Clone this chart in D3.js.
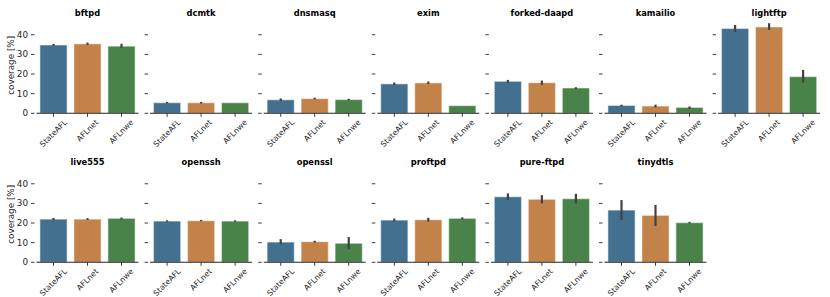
<!DOCTYPE html>
<html>
<head>
<meta charset="utf-8">
<script src="https://cdn.jsdelivr.net/npm/d3@7"></script>
<style>
  html, body { margin: 0; padding: 0; background: #fff; }
  svg { display: block; font-family: "DejaVu Sans", sans-serif; }
</style>
</head>
<body>
<svg id="chart" width="830" height="297"></svg>
<script>
// ---- data ----
const programs = ["bftpd","dcmtk","dnsmasq","exim","forked-daapd","kamailio","lightftp",
                  "live555","openssh","openssl","proftpd","pure-ftpd","tinydtls"];
const fuzzers = ["StateAFL","AFLnet","AFLnwe"];
const yTicks = [0,10,20,30,40];

const stateafl    = [34.8, 5.4, 6.9, 15.0, 16.3, 4.0, 43.2, 22.0, 21.0, 10.3, 21.5, 33.4, 26.6];
const stateaflLo  = [34.3, 5.0, 6.3, 14.4, 15.6, 3.6, 41.5, 21.4, 20.6,  9.3, 20.8, 31.7, 21.5];
const stateaflHi  = [35.4, 5.8, 7.6, 15.7, 17.0, 4.4, 45.0, 22.6, 21.4, 11.8, 22.3, 35.1, 31.7];

const aflnet      = [35.4, 5.4, 7.5, 15.5, 15.6, 3.7, 44.0, 22.0, 21.2, 10.5, 21.7, 32.1, 23.9];
const aflnetLo    = [34.8, 5.0, 7.1, 14.9, 14.5, 3.0, 42.5, 21.6, 20.9, 10.0, 20.8, 30.0, 18.5];
const aflnetHi    = [36.0, 5.8, 8.0, 16.2, 16.7, 4.4, 45.9, 22.5, 21.6, 11.0, 22.7, 34.2, 29.2];

const aflnwe      = [34.2, 5.4, 7.0, 3.9, 12.9, 3.0, 18.7, 22.4, 21.0,  9.7, 22.4, 32.4, 20.2];
const aflnweLo    = [33.3, 5.4, 6.6, 3.9, 12.4, 2.3, 15.6, 21.9, 20.6,  6.6, 21.9, 30.0, 19.8];
const aflnweHi    = [35.4, 5.4, 7.4, 3.9, 13.3, 3.5, 22.1, 22.8, 21.4, 12.9, 22.9, 34.9, 20.6];

const colors = ["#44708f", "#c3824a", "#498349"];

// ---- layout ----
const svg = d3.select("#chart");
const nCols = 7;
const panelW = 102, colStep = 113.6, left0 = 36.5;
const rowBase = [113.3, 262.3];
const yPxPerUnit = 1.963;
const yMax = 48;
const ink = "#262626";

const series = [
  {name: fuzzers[0], v: stateafl, lo: stateaflLo, hi: stateaflHi},
  {name: fuzzers[1], v: aflnet, lo: aflnetLo, hi: aflnetHi},
  {name: fuzzers[2], v: aflnwe, lo: aflnweLo, hi: aflnweHi}
];

programs.forEach((prog, i) => {
  const row = Math.floor(i / nCols), col = i % nCols;
  const x0 = left0 + col * colStep;
  const y0 = rowBase[row];
  const g = svg.append("g");

  const x = d3.scaleBand().domain(fuzzers).range([x0, x0 + panelW]).paddingInner(0.2).paddingOuter(0.1);
  const y = d3.scaleLinear().domain([0, yMax]).range([y0, y0 - yMax * yPxPerUnit]);
  const xc = f => x(f) + x.bandwidth() / 2;

  // title
  g.append("text").attr("x", x0 + panelW / 2).attr("y", y0 - 97)
    .attr("text-anchor", "middle").attr("font-size", 8.3).attr("font-weight", "bold")
    .attr("fill", "#000").text(prog);

  // y ticks
  yTicks.forEach(t => {
    g.append("line").attr("x1", x0 - 5.5).attr("x2", x0 - 2)
      .attr("y1", y(t)).attr("y2", y(t)).attr("stroke", ink).attr("stroke-width", 0.9);
    if (col === 0) {
      g.append("text").attr("x", x0 - 8.5).attr("y", y(t)).attr("dy", "0.35em")
        .attr("text-anchor", "end").attr("font-size", 8.8).attr("fill", ink).text(t);
    }
  });
  if (col === 0) {
    g.append("text").attr("transform", `translate(11,${y0 - 48}) rotate(-90)`)
      .attr("text-anchor", "middle").attr("dy", "0.35em").attr("font-size", 8.8)
      .attr("fill", ink).text("coverage [%]");
  }

  // bars
  series.forEach((s, k) => {
    g.append("rect").attr("x", x(s.name)).attr("width", x.bandwidth())
      .attr("y", y(s.v[i])).attr("height", y0 - y(s.v[i]))
      .attr("fill", colors[k]).attr("stroke", "#ffffff").attr("stroke-opacity", 0.45)
      .attr("stroke-width", 1.2);
  });
  // error bars
  series.forEach((s, k) => {
    if (s.hi[i] - s.lo[i] > 0.05) {
      g.append("line").attr("x1", xc(s.name)).attr("x2", xc(s.name))
        .attr("y1", y(s.lo[i])).attr("y2", y(s.hi[i]))
        .attr("stroke", "#424242").attr("stroke-width", 2.2);
    }
  });

  // bottom spine
  g.append("line").attr("x1", x0).attr("x2", x0 + panelW).attr("y1", y0).attr("y2", y0)
    .attr("stroke", ink).attr("stroke-width", 1.1);

  // x ticks + rotated labels (centered rotated bbox)
  fuzzers.forEach(f => {
    const cx = xc(f);
    g.append("line").attr("x1", cx).attr("x2", cx).attr("y1", y0).attr("y2", y0 + 3.5)
      .attr("stroke", ink).attr("stroke-width", 0.9);
    const fs = 7.8;
    const t = g.append("text").attr("font-size", fs).attr("fill", ink)
      .attr("text-anchor", "middle").attr("dominant-baseline", "central").text(f);
    const w = t.node().getComputedTextLength();
    const half = (w + fs) / (2 * Math.SQRT2);
    t.attr("transform", `translate(${cx},${y0 + 5 + half}) rotate(-45)`);
  });
});
</script>
</body>
</html>
